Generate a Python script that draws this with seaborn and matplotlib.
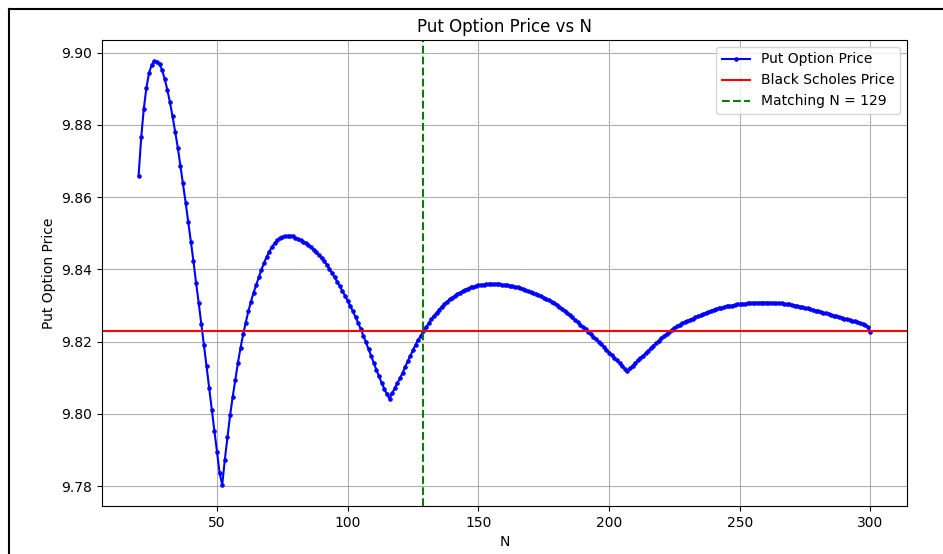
import numpy as np
import pandas as pd
import matplotlib
matplotlib.use("Agg")
import matplotlib.pyplot as plt
from matplotlib.lines import Line2D
import seaborn as sns

# ---- data ----
n_start = 20
put_prices = [
    # 20-29
    9.8659, 9.8765, 9.8845, 9.8903, 9.8943, 9.8966, 9.8976, 9.8975, 9.8967, 9.8952,
    # 30-39
    9.8926, 9.8897, 9.8862, 9.8823, 9.8780, 9.8737, 9.8687, 9.8638, 9.8585, 9.8532,
    # 40-49
    9.8477, 9.8422, 9.8362, 9.8307, 9.8249, 9.8191, 9.8132, 9.8072, 9.8012, 9.7953,
    # 50-59
    9.7896, 9.7836, 9.7804, 9.7874, 9.7936, 9.7996, 9.8047, 9.8095, 9.8141, 9.8183,
    # 60-69
    9.8220, 9.8253, 9.8284, 9.8311, 9.8336, 9.8357, 9.8378, 9.8399, 9.8418, 9.8435,
    # 70-79
    9.8449, 9.8462, 9.8472, 9.8480, 9.8486, 9.8489, 9.8491, 9.8492, 9.8492, 9.8491,
    # 80-89
    9.8488, 9.8484, 9.8480, 9.8477, 9.8472, 9.8467, 9.8461, 9.8454, 9.8447, 9.8440,
    # 90-99
    9.8432, 9.8423, 9.8413, 9.8402, 9.8390, 9.8378, 9.8366, 9.8353, 9.8340, 9.8327,
    # 100-109
    9.8313, 9.8299, 9.8284, 9.8268, 9.8252, 9.8235, 9.8217, 9.8198, 9.8179, 9.8160,
    # 110-119
    9.8141, 9.8122, 9.8104, 9.8086, 9.8070, 9.8055, 9.8042, 9.8057, 9.8071, 9.8085,
    # 120-129
    9.8099, 9.8114, 9.8130, 9.8146, 9.8161, 9.8177, 9.8192, 9.8205, 9.8217, 9.8229,
    # 130-139
    9.8240, 9.8251, 9.8262, 9.8271, 9.8280, 9.8289, 9.8297, 9.8304, 9.8311, 9.8317,
    # 140-149
    9.8322, 9.8327, 9.8332, 9.8336, 9.8340, 9.8344, 9.8347, 9.8350, 9.8352, 9.8354,
    # 150-159
    9.8356, 9.8357, 9.8358, 9.8359, 9.8360, 9.8360, 9.8360, 9.8360, 9.8359, 9.8358,
    # 160-169
    9.8357, 9.8356, 9.8355, 9.8353, 9.8352, 9.8350, 9.8348, 9.8345, 9.8343, 9.8340,
    # 170-179
    9.8337, 9.8334, 9.8331, 9.8328, 9.8325, 9.8321, 9.8318, 9.8314, 9.8311, 9.8307,
    # 180-189
    9.8302, 9.8297, 9.8291, 9.8285, 9.8279, 9.8273, 9.8267, 9.8260, 9.8254, 9.8247,
    # 190-199
    9.8241, 9.8234, 9.8228, 9.8221, 9.8214, 9.8207, 9.8200, 9.8193, 9.8186, 9.8178,
    # 200-209
    9.8170, 9.8163, 9.8155, 9.8148, 9.8140, 9.8133, 9.8125, 9.8118, 9.8126, 9.8134,
    # 210-219
    9.8141, 9.8148, 9.8155, 9.8161, 9.8168, 9.8175, 9.8182, 9.8189, 9.8196, 9.8203,
    # 220-229
    9.8210, 9.8216, 9.8222, 9.8228, 9.8233, 9.8238, 9.8243, 9.8247, 9.8251, 9.8255,
    # 230-239
    9.8258, 9.8261, 9.8264, 9.8267, 9.8270, 9.8273, 9.8276, 9.8279, 9.8282, 9.8285,
    # 240-249
    9.8288, 9.8290, 9.8292, 9.8294, 9.8296, 9.8298, 9.8299, 9.8300, 9.8302, 9.8303,
    # 250-259
    9.8304, 9.8305, 9.8305, 9.8306, 9.8306, 9.8307, 9.8307, 9.8308, 9.8308, 9.8308,
    # 260-269
    9.8308, 9.8308, 9.8308, 9.8307, 9.8307, 9.8306, 9.8306, 9.8305, 9.8304, 9.8303,
    # 270-279
    9.8302, 9.8300, 9.8299, 9.8297, 9.8296, 9.8294, 9.8292, 9.8290, 9.8288, 9.8286,
    # 280-289
    9.8284, 9.8282, 9.8280, 9.8278, 9.8276, 9.8274, 9.8272, 9.8270, 9.8268, 9.8266,
    # 290-299
    9.8264, 9.8262, 9.8260, 9.8258, 9.8256, 9.8254, 9.8252, 9.8249, 9.8246, 9.8240,
    # 300
    9.8227,
]
n_values = list(range(n_start, n_start + len(put_prices)))
black_scholes_price = 9.8230
matching_n = 129

title = "Put Option Price vs N"
x_label = "N"
y_label = "Put Option Price"
series_label = "Put Option Price"
bs_label = "Black Scholes Price"
match_label = f"Matching N = {matching_n}"

df = pd.DataFrame({"N": n_values, "Price": put_prices})

fig = plt.figure(figsize=(9.43, 5.54), dpi=100)
ax = fig.add_axes([102 / 943, 1 - 506 / 554, (907 - 102) / 943, (506 - 40) / 554])

sns.lineplot(data=df, x="N", y="Price", ax=ax, color="blue", marker=".",
             markersize=5, markeredgecolor="blue", markerfacecolor="blue",
             linewidth=1.5, label=series_label)
ax.axhline(black_scholes_price, color="red", linewidth=1.5, label=bs_label)
ax.axvline(matching_n, color="green", linestyle="--", linewidth=1.5, label=match_label)

ax.set_title(title, fontsize=12)
ax.set_xlabel(x_label, fontsize=10)
ax.set_ylabel(y_label, fontsize=10)
ax.grid(True, color="#b0b0b0", linewidth=0.8)
ax.legend(loc="upper right", fontsize=10)

# screenshot frame
fig.add_artist(Line2D([9 / 943, 1.0], [1 - 8.5 / 554, 1 - 8.5 / 554], color="black",
                      linewidth=1.5, transform=fig.transFigure))
fig.add_artist(Line2D([9 / 943, 9 / 943], [0.0, 1 - 8.5 / 554], color="black",
                      linewidth=1.5, transform=fig.transFigure))

fig.savefig("out.png", dpi=100)
